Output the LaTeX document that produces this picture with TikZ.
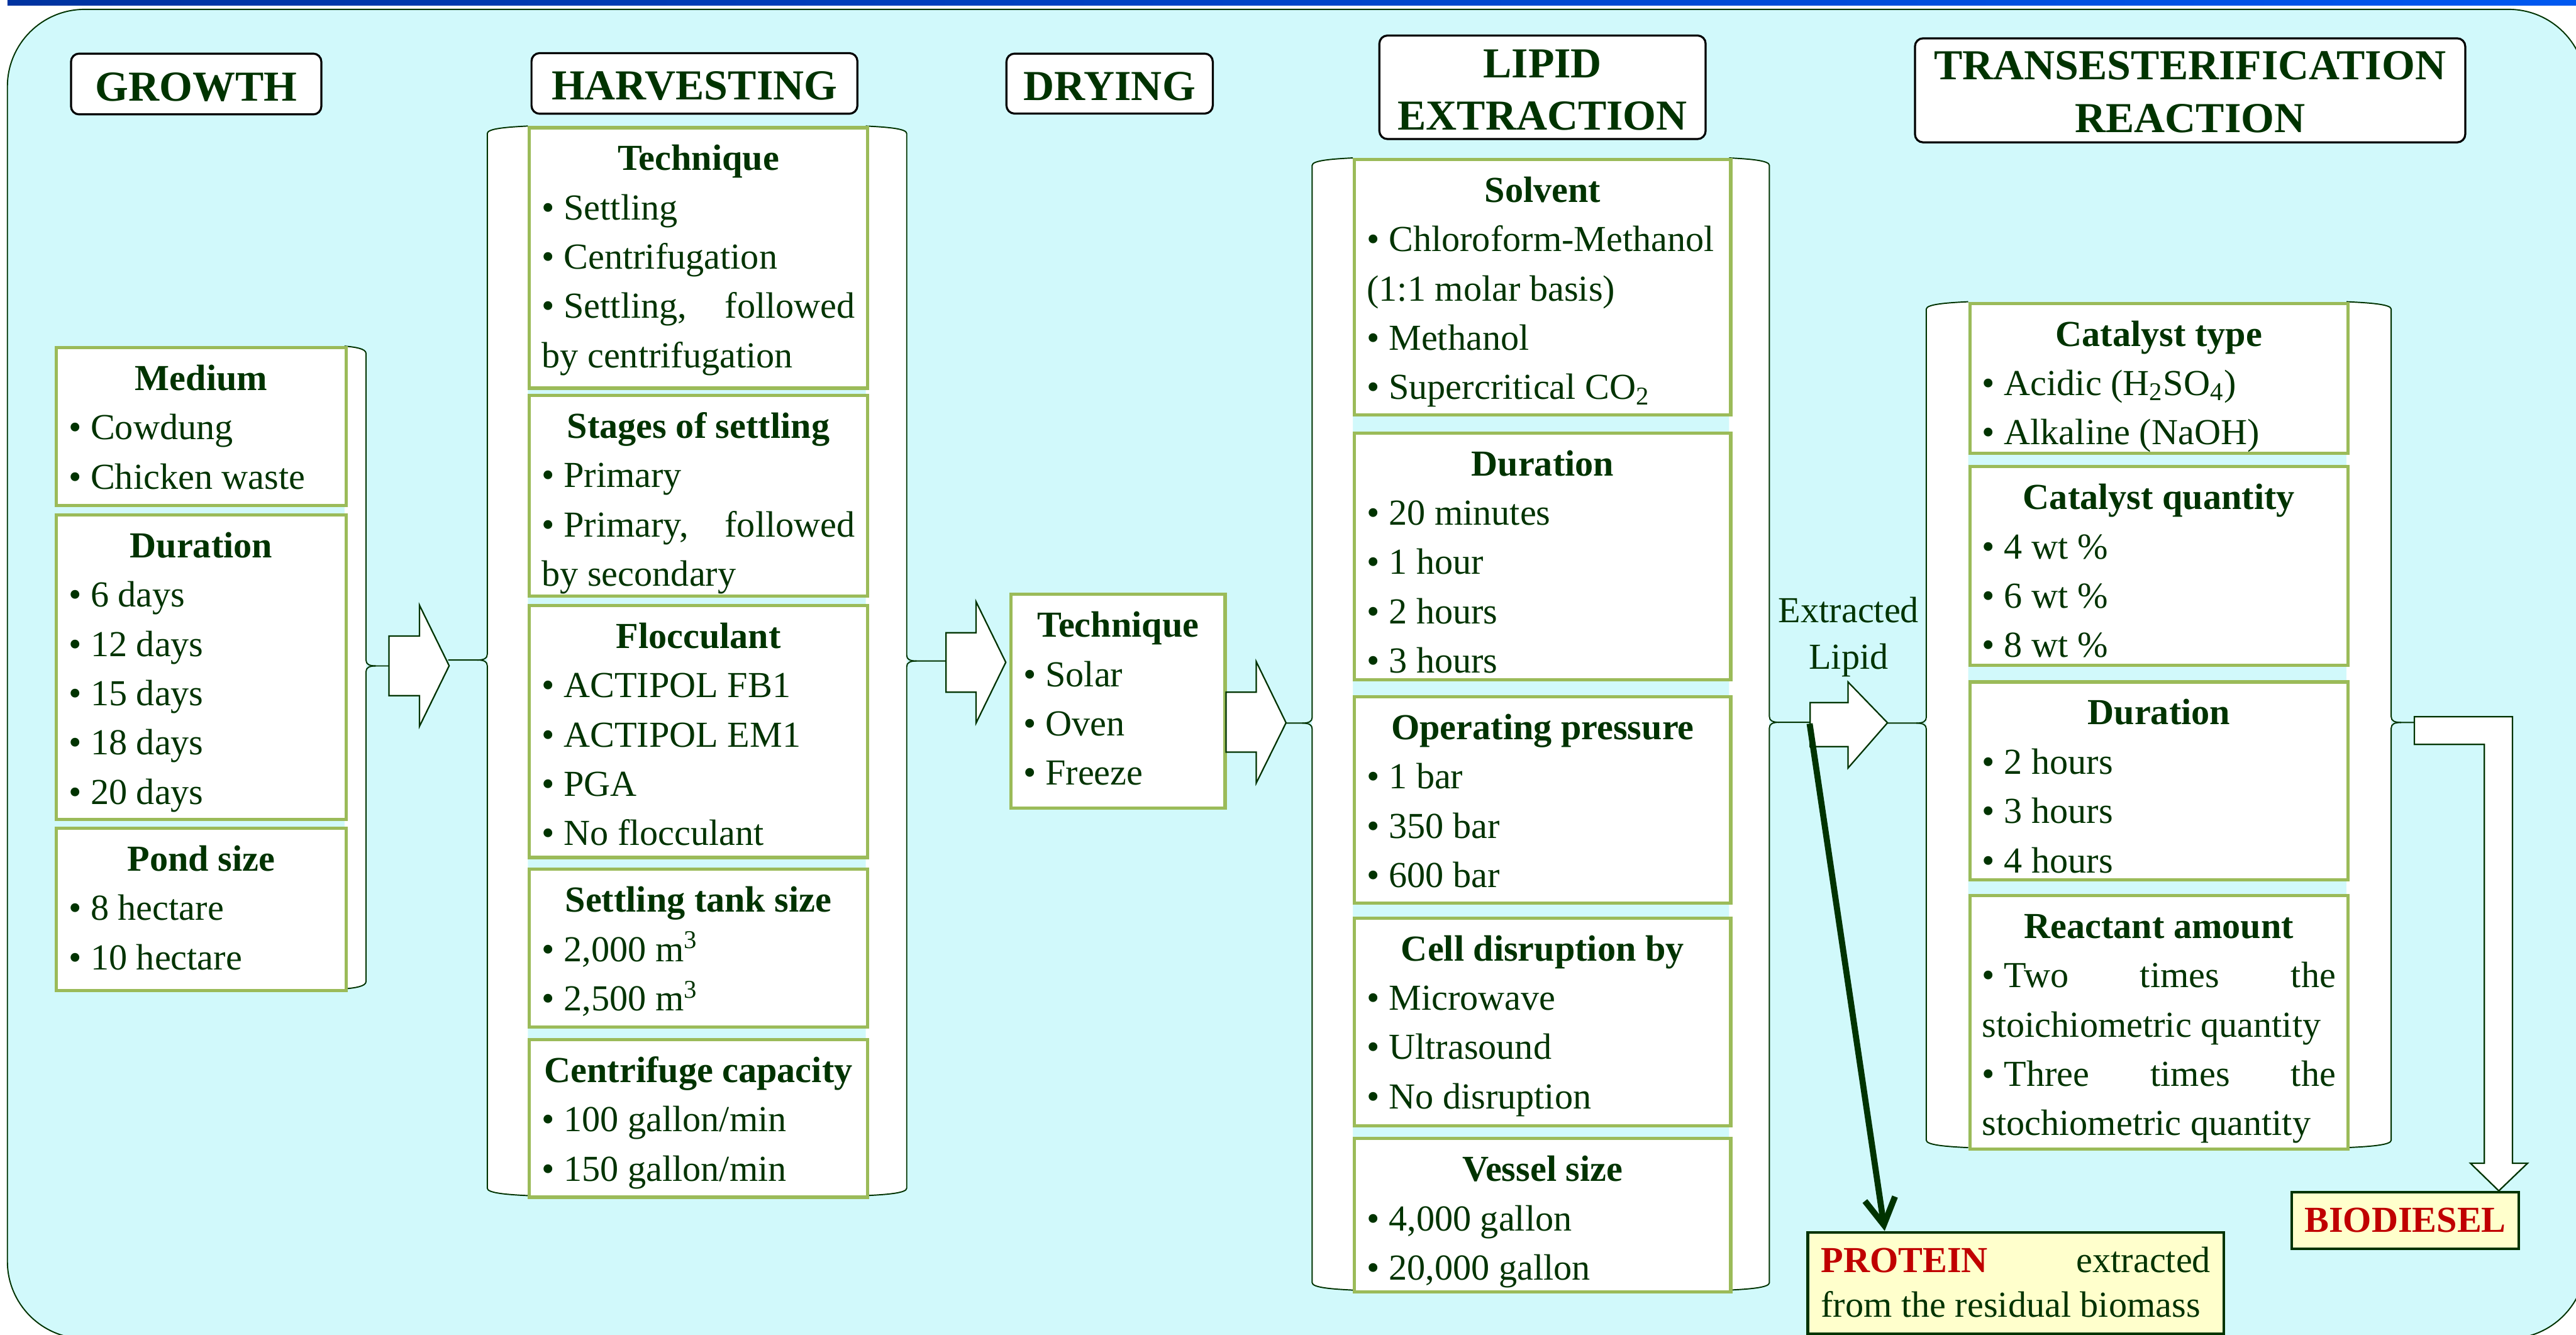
\documentclass[tikz,border=0pt]{standalone}
\usepackage{fontspec}
\setmainfont{Liberation Serif}
\usetikzlibrary{arrows.meta,calc}
\definecolor{cyanbg}{HTML}{D1F9FB}
\definecolor{lgreen}{HTML}{9BBB59}
\definecolor{dgreen}{HTML}{003300}
\definecolor{dred}{HTML}{C00000}
\definecolor{yelbg}{HTML}{FFFFCC}
\definecolor{bandL}{HTML}{0033A0}
\definecolor{bandR}{HTML}{0058F0}
\newdimen\uu \uu=0.81005pt
\newcommand{\bodyfont}{\fontsize{18.06pt}{24.3pt}\selectfont\lineskiplimit=-40pt\lineskip=0pt\color{dgreen}}
\newcommand{\titlefont}{\fontsize{21.06pt}{25.76pt}\selectfont\bfseries\lineskiplimit=-40pt\lineskip=0pt\color{dgreen}}
\newcommand{\bul}{\textbullet\hspace{0.25em}}
\newcommand{\boxhd}[1]{\rule{0pt}{21.06pt}\makebox[\hsize]{\bfseries #1}}
\newcommand{\jst}[1]{\makebox[\hsize][s]{#1}}
\tikzset{
  sbox/.style={draw=lgreen, line width=1.6pt, fill=white, inner ysep=0pt, inner xsep=6.08pt, anchor=north west},
  tbox/.style={draw=black, line width=1pt, fill=white, rounded corners=4pt, inner sep=0pt, anchor=north west},
  outbox/.style={draw=dgreen, line width=1.3pt, inner sep=0pt, anchor=north west},
  braceline/.style={draw=dgreen, line width=0.6pt},
  blockarrow/.style={draw=dgreen, line width=0.7pt, fill=white, line join=miter},
}
\newcommand{\sbx}[6]{%
  \pgfmathsetmacro{\sbW}{#4-#2-15}%
  \pgfmathsetmacro{\sbH}{#5-#3}%
  \node[sbox] (#1) at (#2,#3) {\parbox[c][\sbH\uu][t]{\sbW\uu}{\bodyfont #6}};}
\newcommand{\tbx}[7]{%
  \pgfmathsetmacro{\sbW}{#4-#2}%
  \pgfmathsetmacro{\sbH}{#5-#3}%
  \pgfmathsetmacro{\sbO}{#6*0.81005}%
  \node[tbox] (#1) at (#2,#3) {\parbox[c][\sbH\uu][t]{\sbW\uu}{\titlefont\centering\rule{0pt}{\sbO pt}#7}};}
\newcommand{\sidebrace}[7]{%
  \fill[white] (#1,#3) .. controls ({(#1+#2)/2},{#3+0.6}) and (#2,{#3+1.5}) .. (#2,{#3+4.5})
     -- (#2,{#4-4.5}) .. controls (#2,{#4-1.5}) and ({(#1+#2)/2},{#4-0.6}) .. (#1,#4) -- cycle;
  \draw[braceline] (#1,#3) .. controls ({(#1+#2)/2},{#3+0.6}) and (#2,{#3+1.5}) .. (#2,{#3+4.5})
     -- (#2,{#5-3.5}) .. controls (#2,{#5-1}) and ({#2+(#7)*2},#5) .. ({#2+(#7)*6},#5) -- (#6,#5);
  \draw[braceline] ({#2+(#7)*6},#5) .. controls ({#2+(#7)*2},#5) and (#2,{#5+1}) .. (#2,{#5+3.5})
     -- (#2,{#4-4.5}) .. controls (#2,{#4-1.5}) and ({(#1+#2)/2},{#4-0.6}) .. (#1,#4);
}
\newcommand{\barrow}[8]{\draw[blockarrow] (#1,#4) -- (#2,#4) -- (#2,#6) -- (#3,#8) -- (#2,#7) -- (#2,#5) -- (#1,#5) -- cycle;}
\begin{document}
\begin{tikzpicture}[x=0.02847cm, y=-0.02847cm]
\useasboundingbox (0,0) rectangle (1568,812);
\clip (0,0) rectangle (1568,812);
\fill[white] (0,0) rectangle (1568,812);
\shade[left color=bandL, right color=bandR] (4.5,0) rectangle (1568,3.3);
\draw[draw=dgreen, line width=0.6pt, fill=cyanbg, rounded corners=1.338cm] (4.5,5.7) rectangle (1574,814.5);

% braces
\sidebrace{209.7}{222.8}{210.6}{601.7}{405.2}{236.8}{1}
\sidebrace{321.3}{296.6}{76.7}{727.5}{401.6}{272.8}{-1}
\sidebrace{527}{551.9}{76.7}{727.5}{402.2}{575.8}{1}
\sidebrace{823.5}{798.7}{96.1}{785}{440}{782.8}{-1}
\sidebrace{1052.5}{1077}{96.1}{785}{439.5}{1101.8}{1}
\sidebrace{1198}{1172.5}{183.6}{698.3}{440}{1148.9}{-1}
\sidebrace{1428.3}{1455.5}{183.6}{698.3}{439.6}{1469.6}{1}

% titles
\tbx{tgrowth}{42.6}{32}{195}{69}{28.8}{GROWTH}
\tbx{tharv}{322.9}{31.7}{521.3}{68.6}{28.2}{HARVESTING}
\tbx{tdry}{612}{32}{737.6}{68.5}{28.4}{DRYING}
\tbx{tlipid}{839}{21}{1037.6}{84}{25.8}{LIPID\\EXTRACTION}
\tbx{ttrans}{1165}{22.7}{1500}{86}{25.3}{TRANSESTERIFICATION\\REACTION}

% growth
\sbx{g1}{33.3}{210.6}{209.7}{306.6}{\boxhd{Medium}\\\bul Cowdung\\\bul Chicken waste}
\sbx{g2}{33.3}{312.3}{209.7}{497.7}{\boxhd{Duration}\\\bul 6 days\\\bul 12 days\\\bul 15 days\\\bul 18 days\\\bul 20 days}
\sbx{g3}{33.3}{503}{209.7}{601.7}{\boxhd{Pond size}\\\bul 8 hectare\\\bul 10 hectare}

% harvesting
\sbx{h1}{321.3}{76.7}{527}{235.2}{\boxhd{Technique}\\\bul Settling\\\bul Centrifugation\\\jst{\bul Settling, followed}\\by centrifugation}
\sbx{h2}{321.3}{239.6}{527}{361.6}{\boxhd{Stages of settling}\\\bul Primary\\\jst{\bul Primary, followed}\\by secondary}
\sbx{h3}{321.3}{367.5}{527}{520.8}{\boxhd{Flocculant}\\\bul ACTIPOL FB1\\\bul ACTIPOL EM1\\\bul PGA\\\bul No flocculant}
\sbx{h4}{321.3}{528}{527}{624}{\boxhd{Settling tank size}\\\bul 2,000 m\textsuperscript{3}\\\bul 2,500 m\textsuperscript{3}}
\sbx{h5}{321.3}{631.6}{527}{727.5}{\boxhd{Centrifuge capacity}\\\bul 100 gallon/min\\\bul 150 gallon/min}

% drying
\sbx{d1}{614.5}{360.7}{744.7}{490.8}{\boxhd{Technique}\\\bul Solar\\\bul Oven\\\bul Freeze}

% lipid extraction
\sbx{l1}{823.5}{96.1}{1052.5}{251.4}{\boxhd{Solvent}\\\bul Chloroform-Methanol\\(1:1 molar basis)\\\bul Methanol\\\bul Supercritical CO\textsubscript{2}}
\sbx{l2}{823.5}{262.5}{1052.5}{412.7}{\boxhd{Duration}\\\bul 20 minutes\\\bul 1 hour\\\bul 2 hours\\\bul 3 hours}
\sbx{l3}{823.5}{423}{1052.5}{548.6}{\boxhd{Operating pressure}\\\bul 1 bar\\\bul 350 bar\\\bul 600 bar}
\sbx{l4}{823.5}{557.6}{1052.5}{684}{\boxhd{Cell disruption by}\\\bul Microwave\\\bul Ultrasound\\\bul No disruption}
\sbx{l5}{823.5}{691.8}{1052.5}{785}{\boxhd{Vessel size}\\\bul 4,000 gallon\\\bul 20,000 gallon}

% transesterification
\sbx{t1}{1198}{183.6}{1428.3}{274.8}{\boxhd{Catalyst type}\\\bul Acidic (H\textsubscript{2}SO\textsubscript{4})\\\bul Alkaline (NaOH)}
\sbx{t2}{1198}{283}{1428.3}{404}{\boxhd{Catalyst quantity}\\\bul 4 wt \%\\\bul 6 wt \%\\\bul 8 wt \%}
\sbx{t3}{1198}{414}{1428.3}{534.5}{\boxhd{Duration}\\\bul 2 hours\\\bul 3 hours\\\bul 4 hours}
\sbx{t4}{1198}{544}{1428.3}{698.3}{\boxhd{Reactant amount}\\\jst{\bul Two times the}\\stoichiometric quantity\\\jst{\bul Three times the}\\stochiometric quantity}

% block arrows
\barrow{236.8}{255.3}{273.4}{387}{423.3}{368.2}{442}{405.1}
\barrow{575.8}{594.1}{612.2}{385}{421.2}{366.1}{440}{403}
\barrow{746.3}{764.7}{782.8}{421.2}{457.6}{402.7}{476.4}{439.8}
\barrow{1101.8}{1124.9}{1148.9}{427.5}{454.3}{415}{467.3}{439.8}
\draw[blockarrow] (1469.6,436.1) -- (1529.3,436.1) -- (1529.3,707.8) -- (1538.5,707.8) -- (1521,724.6)
   -- (1503.7,707.8) -- (1512.2,707.8) -- (1512.2,453) -- (1469.6,453) -- cycle;

% outputs
\node[outbox, fill=yelbg] (bio) at (1394,724.6) {\parbox[c][34.6\uu][t]{138.5\uu}{\centering\bodyfont\rule{0pt}{19.76pt}\bfseries\color{dred}BIODIESEL}};
\node[outbox, fill=yelbg, inner xsep=6.48pt] (protein) at (1099.6,749) {\parbox[c][61.8\uu][t]{237.2\uu}{\bodyfont\baselineskip=22.1pt\rule{0pt}{19.85pt}\jst{\textcolor{dred}{\bfseries PROTEIN} extracted}\\from the residual biomass}};
\node[anchor=north west, inner sep=0pt] (elabel) at (1075,361.4) {\parbox[c][46\uu][t]{100\uu}{\centering\bodyfont\baselineskip=23pt\rule{0pt}{13.77pt}Extracted\\Lipid}};

\coordinate (pstart) at (1101.5,440.3);
\draw[dgreen, line width=3pt, -{Straight Barb[length=13pt,width=15pt]}] (pstart) -- ($(protein.north west)+(47.6,0)$);
\end{tikzpicture}
\end{document}
